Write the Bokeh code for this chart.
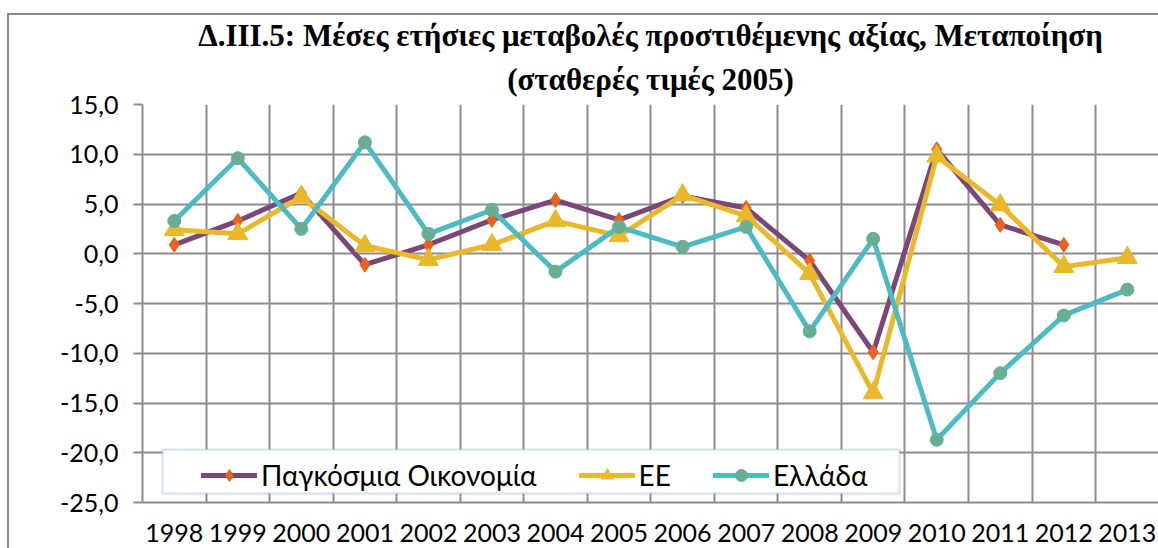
import math
from bokeh.plotting import figure
from bokeh.models import (ColumnDataSource, FixedTicker, Range1d, Legend, LegendItem,
                          BoxAnnotation, Title, InlineStyleSheet)
from bokeh.embed import file_html
from bokeh.resources import INLINE

years = ["1998", "1999", "2000", "2001", "2002", "2003", "2004", "2005",
         "2006", "2007", "2008", "2009", "2010", "2011", "2012", "2013"]
world = [0.9, 3.3, 6.1, -1.1, 0.9, 3.4, 5.4, 3.4, 5.8, 4.6, -0.7, -9.9, 10.5, 2.9, 0.9, float("nan")]
eu = [2.4, 2.0, 5.7, 0.8, -0.6, 0.9, 3.3, 1.8, 5.9, 3.8, -2.0, -14.0, 9.8, 4.9, -1.3, -0.4]
greece = [3.3, 9.6, 2.5, 11.2, 2.0, 4.4, -1.8, 2.7, 0.7, 2.7, -7.8, 1.5, -18.7, -12.0, -6.2, -3.6]
y_ticks = [-25, -20, -15, -10, -5, 0, 5, 10, 15]
y_tick_labels = ["-25,0", "-20,0", "-15,0", "-10,0", "-5,0", "0,0", "5,0", "10,0", "15,0"]
series_names = ["Παγκόσμια Οικονομία", "ΕΕ", "Ελλάδα"]
title_line1 = "Δ.ΙΙΙ.5: Μέσες ετήσιες μεταβολές προστιθέμενης αξίας, Μεταποίηση"
title_line2 = "(σταθερές τιμές 2005)"

idx = list(range(len(years)))
src = ColumnDataSource(dict(x=idx, world=world, eu=eu, greece=greece))

FONT = "Lato"
GRID = "#8c8c8c"

border_css = InlineStyleSheet(css="""
:host::after {
  content: '';
  position: absolute;
  left: 7px; top: 13px;
  width: calc(100% - 7px); height: calc(100% - 13px);
  border-left: 2px solid #8a8a8a; border-top: 2px solid #8a8a8a;
  box-sizing: border-box;
  pointer-events: none;
  z-index: 50;
}
""")

p = figure(width=1158, height=548, output_backend="svg", toolbar_location=None,
           x_range=Range1d(-0.5, 15.49), y_range=Range1d(-25, 15),
           min_border_left=142, min_border_right=0, min_border_top=104, min_border_bottom=46,
           title=None)
p.stylesheets = [border_css]
p.outline_line_color = None
p.background_fill_color = "white"
p.border_fill_color = "white"

# title: two centred lines
t2 = Title(text=title_line2, align="center", text_font="Liberation Serif",
           text_font_style="bold", text_font_size="31px", text_color="black",
           text_line_height=1.0, standoff=15)
t1 = Title(text=title_line1, align="center", text_font="Liberation Serif",
           text_font_style="bold", text_font_size="31px", text_color="black",
           text_line_height=1.0, standoff=0)
p.add_layout(t2, "above")
p.add_layout(t1, "above")

# axes
p.xaxis.ticker = FixedTicker(ticks=idx)
p.xaxis.major_label_overrides = {i: y for i, y in enumerate(years)}
p.xaxis.major_tick_line_color = None
p.xaxis.minor_tick_line_color = None
p.xaxis.axis_line_color = GRID
p.xaxis.axis_line_width = 2
p.xaxis.major_label_standoff = 15
p.xaxis.major_label_text_font = FONT
p.xaxis.major_label_text_font_size = "25px"
p.xaxis.major_label_text_color = "black"

p.yaxis.ticker = FixedTicker(ticks=y_ticks)
p.yaxis.major_label_overrides = {t: l for t, l in zip(y_ticks, y_tick_labels)}
p.yaxis.major_tick_line_color = GRID
p.yaxis.major_tick_line_width = 2
p.yaxis.major_tick_out = 9
p.yaxis.major_tick_in = 0
p.yaxis.minor_tick_line_color = None
p.yaxis.axis_line_color = GRID
p.yaxis.axis_line_width = 2
p.yaxis.major_label_standoff = 15
p.yaxis.major_label_text_font = FONT
p.yaxis.major_label_text_font_size = "25px"
p.yaxis.major_label_text_color = "black"

p.xgrid.ticker = FixedTicker(ticks=[i - 0.5 for i in range(len(years) + 1)])
p.xgrid.grid_line_color = GRID
p.xgrid.grid_line_width = 2
p.ygrid.ticker = FixedTicker(ticks=y_ticks)
p.ygrid.grid_line_color = GRID
p.ygrid.grid_line_width = 2

# series
c_world, c_world_m = "#7a4778", "#e8621c"
c_eu = "#e9b82b"
c_gr, c_gr_m = "#4dbbc4", "#67ae93"

l1 = p.line("x", "world", source=src, line_color=c_world, line_width=5, line_join="round", line_cap="round")
m1 = p.scatter("x", "world", source=src, marker="diamond", size=15, fill_color=c_world_m, line_color=c_world_m)
l2 = p.line("x", "eu", source=src, line_color=c_eu, line_width=5, line_join="round", line_cap="round")
m2 = p.scatter("x", "eu", source=src, marker="triangle", size=20, fill_color=c_eu, line_color=c_eu)
l3 = p.line("x", "greece", source=src, line_color=c_gr, line_width=5, line_join="round", line_cap="round")
m3 = p.scatter("x", "greece", source=src, marker="circle", size=13, fill_color=c_gr_m, line_color=c_gr_m)

# legend box
lbox = BoxAnnotation(left=162, right=899, top=449, bottom=493,
                     left_units="canvas", right_units="canvas", top_units="canvas", bottom_units="canvas",
                     fill_color="white", fill_alpha=1, line_color="#6a9ad8", line_width=2)
p.add_layout(lbox)

legend = Legend(items=[LegendItem(label=series_names[0], renderers=[l1, m1]),
                       LegendItem(label=series_names[1], renderers=[l2, m2]),
                       LegendItem(label=series_names[2], renderers=[l3, m3])],
                orientation="horizontal", location=(59, 10),
                border_line_color=None, background_fill_alpha=0,
                label_text_font=FONT, label_text_font_size="28px", label_text_color="black",
                glyph_width=56, glyph_height=30, label_standoff=4, spacing=42, padding=6,
                label_height=30)
p.add_layout(legend)

open("out.html", "w").write(file_html(p, INLINE))
